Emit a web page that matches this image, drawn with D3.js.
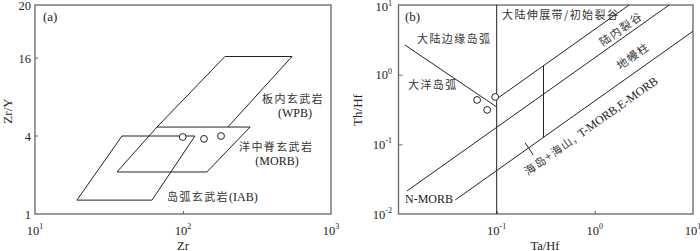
<!DOCTYPE html>
<html><head><meta charset="utf-8">
<script src="https://cdn.jsdelivr.net/npm/d3@7"></script>
<style>
body{margin:0;background:#fff}
svg{display:block}
.num{font-family:"Liberation Serif","Times New Roman",serif;fill:#222}
.cjk{font-family:"Noto Sans CJK SC",sans-serif;fill:#333;letter-spacing:1.4px}
</style>
</head><body>
<svg id="c" width="700" height="251"></svg>
<script>
// ---------- Panel (a): Zr/Y vs Zr ----------
const zrTicks = [10, 100, 1000];
const zrTickLabels = [["10", "1"], ["10", "2"], ["10", "3"]];
const zrYTicks = [1, 4, 16, 20];
const zrYTickLabels = ["1", "4", "16", "20"];
const wpbField = [[66.7, 4.69], [192, 16.1], [545, 16.1], [201, 4.69]];
const morbField = [[66.7, 4.69], [284, 4.69], [145, 2.11], [35.8, 2.11]];
const iabField = [[38.7, 4.0], [120.5, 4.0], [61.7, 1.28], [19.2, 1.28]];
const sampleZr = [99.5, 138.6, 180.7];
const sampleZrY = [3.93, 3.8, 4.0];

// ---------- Panel (b): Th/Hf vs Ta/Hf ----------
const taHfTicks = [0.01, 0.1, 1, 10];
const taHfTickLabels = [["10", "-2"], ["10", "-1"], ["10", "0"], ["10", "1"]];
const thHfTicks = [0.01, 0.1, 1, 10];
const thHfTickLabels = [["10", "-2"], ["10", "-1"], ["10", "0"], ["10", "1"]];
const boundaryLines = [
  [[0.1, 0.01], [0.1, 10]],
  [[0.0116, 2.67], [0.1, 0.344]],
  [[0.1, 0.448], [2.23, 10]],
  [[0.0122, 0.0214], [5.71, 10]],
  [[0.0378, 0.0159], [10, 4.2]],
  [[0.3, 0.126], [0.3, 1.344]],
  [[0.195, 0.105], [0.236, 0.0705]]
];
const sampleTaHf = [0.0632, 0.080, 0.0966];
const sampleThHf = [0.434, 0.312, 0.479];

const svg = d3.select("#c");
const frameColor = "#666", lineColor = "#222";

// ----- scales (a)
const xA = d3.scaleLog().domain([10, 1000]).range([35, 331]);
const yAlin = d3.scaleLinear().domain([0, Math.log10(16), Math.log10(20)]).range([214, 58, 5]);
const yA = v => yAlin(Math.log10(v));

// ----- scales (b)
const xB = d3.scaleLog().domain([0.01, 10]).range([398.5, 693]);
const yB = d3.scaleLog().domain([0.01, 10]).range([214, 5]);

function frame(x0, x1, y0, y1) {
  svg.append("rect").attr("x", x0).attr("y", y0).attr("width", x1 - x0).attr("height", y1 - y0)
    .attr("fill", "none").attr("stroke", frameColor).attr("stroke-width", 1.3);
}
function supText(g, x, y, base, sup, anchor) {
  const t = g.append("text").attr("class", "num").attr("x", x).attr("y", y)
    .attr("text-anchor", anchor).attr("font-size", 12.5);
  t.append("tspan").text(base);
  t.append("tspan").attr("font-size", 8).attr("dy", -5.5).text(sup);
  return t;
}

// ===== Panel (a)
frame(35, 331, 5, 214);
svg.append("g").attr("transform", "translate(0,214)")
  .call(d3.axisBottom(xA).tickValues([100]).tickSizeInner(-3).tickSizeOuter(0).tickFormat(""))
  .call(g => { g.select(".domain").remove(); g.selectAll("line").attr("stroke", frameColor); });
svg.selectAll(".ytickA").data([4, 16]).join("line")
  .attr("x1", 35).attr("x2", 38).attr("y1", d => yA(d)).attr("y2", d => yA(d)).attr("stroke", frameColor);

const gA = svg.append("g");
zrTicks.forEach((v, i) => supText(gA, xA(v), 234.5, zrTickLabels[i][0], zrTickLabels[i][1], "middle"));
zrYTicks.forEach((v, i) => gA.append("text").attr("class", "num").attr("x", 31).attr("y", Math.max(yA(v) + 4.5, 10))
  .attr("text-anchor", "end").attr("font-size", 12.5).text(zrYTickLabels[i]));
gA.append("text").attr("class", "num").attr("x", 183).attr("y", 249.5).attr("text-anchor", "middle")
  .attr("font-size", 12.5).text("Zr");
gA.append("text").attr("class", "num").attr("transform", "translate(12,111) rotate(-90)")
  .attr("text-anchor", "middle").attr("font-size", 13).text("Zr/Y");
gA.append("text").attr("class", "num").attr("x", 43).attr("y", 21).attr("font-size", 13).text("(a)");

const lineA = d3.line().x(d => xA(d[0])).y(d => yA(d[1]));
svg.append("path").attr("d", lineA(wpbField)).attr("fill", "none")
  .attr("stroke", lineColor).attr("stroke-width", 1);
[morbField, iabField].forEach(f => {
  svg.append("path").attr("d", lineA(f) + "Z").attr("fill", "none")
    .attr("stroke", lineColor).attr("stroke-width", 1);
});
svg.selectAll(".ptA").data(sampleZr).join("circle")
  .attr("cx", d => xA(d)).attr("cy", (d, i) => yA(sampleZrY[i])).attr("r", 3.4)
  .attr("fill", "#fff").attr("stroke", lineColor).attr("stroke-width", 1);

function cjk(g, x, y, txt, anchor, size) {
  return g.append("text").attr("class", "cjk").attr("x", x).attr("y", y)
    .attr("text-anchor", anchor || "start").attr("font-size", size || 11).text(txt);
}
cjk(gA, 262, 103, "板内玄武岩");
gA.append("text").attr("class", "num").attr("x", 295).attr("y", 117).attr("text-anchor", "middle")
  .attr("font-size", 12).text("(WPB)");
cjk(gA, 239, 151, "洋中脊玄武岩");
gA.append("text").attr("class", "num").attr("x", 277).attr("y", 165).attr("text-anchor", "middle")
  .attr("font-size", 12).text("(MORB)");
const iabT = cjk(gA, 167, 201, "岛弧玄武岩");
iabT.append("tspan").attr("class", "num").style("font-family", "Liberation Serif, serif")
  .style("letter-spacing", "0px").attr("font-size", 12).text("(IAB)");

// ===== Panel (b)
frame(398.5, 693, 5, 214);
svg.append("g").attr("transform", "translate(0,214)")
  .call(d3.axisBottom(xB).tickValues([0.1, 1]).tickSizeInner(-3).tickSizeOuter(0).tickFormat(""))
  .call(g => { g.select(".domain").remove(); g.selectAll("line").attr("stroke", frameColor); });
svg.append("g").attr("transform", "translate(398.5,0)")
  .call(d3.axisLeft(yB).tickValues([0.1, 1]).tickSizeInner(-4).tickSizeOuter(0).tickFormat(""))
  .call(g => { g.select(".domain").remove(); g.selectAll("line").attr("stroke", frameColor); });

const gB = svg.append("g");
taHfTicks.forEach((v, i) => { if (i > 0) supText(gB, xB(v), 234.5, taHfTickLabels[i][0], taHfTickLabels[i][1], "middle"); });
thHfTicks.forEach((v, i) => {
  const t = gB.append("text").attr("class", "num").attr("x", 392).attr("y", Math.max(yB(v) + 4.5, 11))
    .attr("text-anchor", "end").attr("font-size", 12.5);
  t.append("tspan").text(thHfTickLabels[i][0]);
  t.append("tspan").attr("font-size", 8).attr("dy", -5.5).text(thHfTickLabels[i][1]);
});
gB.append("text").attr("class", "num").attr("x", 545).attr("y", 249.5).attr("text-anchor", "middle")
  .attr("font-size", 12.5).text("Ta/Hf");
gB.append("text").attr("class", "num").attr("transform", "translate(362,110) rotate(-90)")
  .attr("text-anchor", "middle").attr("font-size", 13).text("Th/Hf");
gB.append("text").attr("class", "num").attr("x", 405).attr("y", 21).attr("font-size", 13).text("(b)");

const lineB = d3.line().x(d => xB(d[0])).y(d => yB(d[1]));
boundaryLines.forEach(l => svg.append("path").attr("d", lineB(l)).attr("fill", "none")
  .attr("stroke", lineColor).attr("stroke-width", 1));
svg.selectAll(".ptB").data(sampleTaHf).join("circle")
  .attr("cx", d => xB(d)).attr("cy", (d, i) => yB(sampleThHf[i])).attr("r", 3.4)
  .attr("fill", "#fff").attr("stroke", lineColor).attr("stroke-width", 1);

cjk(gB, 502, 19, "大陆伸展带/初始裂谷");
cjk(gB, 417, 43, "大陆边缘岛弧");
cjk(gB, 408, 89, "大洋岛弧");
gB.append("text").attr("class", "num").attr("x", 405).attr("y", 203).attr("font-size", 12).text("N-MORB");

const ang = Math.atan2(yB(10) - yB(1), xB(10) - xB(1)) * 180 / Math.PI;
function rotCjk(cx, cy, txt) {
  return gB.append("text").attr("class", "cjk").attr("text-anchor", "middle")
    .attr("transform", `translate(${cx},${cy}) rotate(${ang})`).attr("font-size", 11)
    .attr("dy", 4).text(txt);
}
rotCjk(621, 29, "陆内裂谷");
rotCjk(633, 56, "地幔柱");
const sm = rotCjk(591, 126, "海岛+海山, ");
sm.append("tspan").attr("class", "num").style("font-family", "Liberation Serif, serif")
  .style("letter-spacing", "0px").attr("font-size", 12).text("T-MORB,E-MORB");
</script>
</body></html>
